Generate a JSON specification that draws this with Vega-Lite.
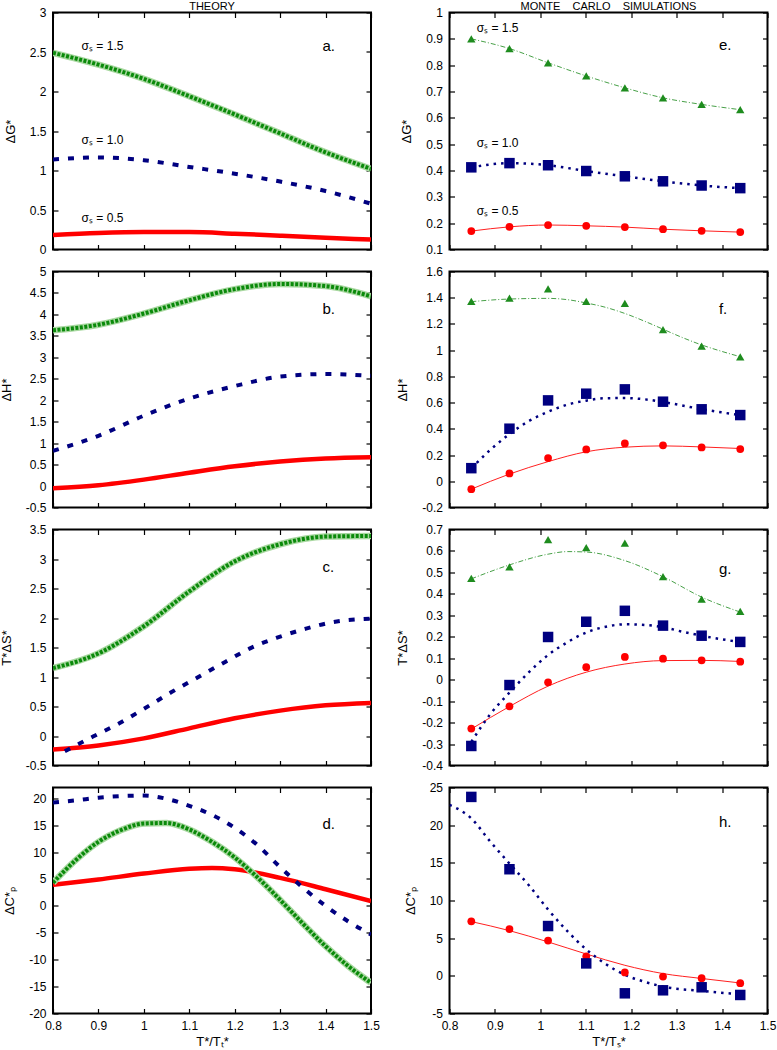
{
"$schema": "https://vega.github.io/schema/vega-lite/v6.json",
"padding": {"left": -1, "top": -0.5, "right": 5, "bottom": 5},
"bounds": "flush",
"columns": 2,
"spacing": {"row": 22, "column": 78.5},
"config": {
  "view": {"stroke": "black", "strokeWidth": 2},
  "font": "Liberation Sans",
  "axis": {"domain": false, "grid": false, "tickSize": -5, "tickWidth": 1.2, "tickColor": "black", "labelFontSize": 12, "labelColor": "black", "labelPadding": 12, "labelFlush": false, "labelOverlap": false, "format": ".2~f", "titleFontSize": 13, "titleFontWeight": "normal", "titleColor": "black", "titlePadding": 12},
  "title": {"fontSize": 11, "fontWeight": "normal", "offset": -5.5, "color": "black"},
  "text": {"font": "Liberation Sans", "color": "black"},
  "locale": {"number": {"decimal": ".", "thousands": ",", "grouping": [3], "currency": ["$", ""], "minus": "-"}}
},
"datasets": {
"th": [
{"p":"a","s":"1.5","x":0.8,"y":2.49},{"p":"a","s":"1.5","x":0.9,"y":2.34},{"p":"a","s":"1.5","x":1.0,"y":2.16},{"p":"a","s":"1.5","x":1.1,"y":1.94},{"p":"a","s":"1.5","x":1.2,"y":1.71},{"p":"a","s":"1.5","x":1.3,"y":1.47},{"p":"a","s":"1.5","x":1.4,"y":1.23},{"p":"a","s":"1.5","x":1.5,"y":1.02},
{"p":"a","s":"1.0","x":0.8,"y":1.14},{"p":"a","s":"1.0","x":0.9,"y":1.165},{"p":"a","s":"1.0","x":1.0,"y":1.13},{"p":"a","s":"1.0","x":1.1,"y":1.045},{"p":"a","s":"1.0","x":1.2,"y":0.96},{"p":"a","s":"1.0","x":1.3,"y":0.86},{"p":"a","s":"1.0","x":1.4,"y":0.74},{"p":"a","s":"1.0","x":1.5,"y":0.58},
{"p":"a","s":"0.5","x":0.8,"y":0.185},{"p":"a","s":"0.5","x":0.9,"y":0.21},{"p":"a","s":"0.5","x":1.0,"y":0.222},{"p":"a","s":"0.5","x":1.1,"y":0.22},{"p":"a","s":"0.5","x":1.2,"y":0.2},{"p":"a","s":"0.5","x":1.3,"y":0.175},{"p":"a","s":"0.5","x":1.4,"y":0.15},{"p":"a","s":"0.5","x":1.5,"y":0.125},
{"p":"b","s":"1.5","x":0.8,"y":3.63},{"p":"b","s":"1.5","x":0.9,"y":3.76},{"p":"b","s":"1.5","x":1.0,"y":4.02},{"p":"b","s":"1.5","x":1.1,"y":4.33},{"p":"b","s":"1.5","x":1.2,"y":4.59},{"p":"b","s":"1.5","x":1.3,"y":4.71},{"p":"b","s":"1.5","x":1.4,"y":4.66},{"p":"b","s":"1.5","x":1.5,"y":4.42},
{"p":"b","s":"1.0","x":0.8,"y":0.82},{"p":"b","s":"1.0","x":0.9,"y":1.17},{"p":"b","s":"1.0","x":1.0,"y":1.64},{"p":"b","s":"1.0","x":1.1,"y":2.04},{"p":"b","s":"1.0","x":1.2,"y":2.33},{"p":"b","s":"1.0","x":1.3,"y":2.55},{"p":"b","s":"1.0","x":1.4,"y":2.61},{"p":"b","s":"1.0","x":1.5,"y":2.57},
{"p":"b","s":"0.5","x":0.8,"y":-0.05},{"p":"b","s":"0.5","x":0.9,"y":0.02},{"p":"b","s":"0.5","x":1.0,"y":0.15},{"p":"b","s":"0.5","x":1.1,"y":0.31},{"p":"b","s":"0.5","x":1.2,"y":0.46},{"p":"b","s":"0.5","x":1.3,"y":0.57},{"p":"b","s":"0.5","x":1.4,"y":0.64},{"p":"b","s":"0.5","x":1.5,"y":0.67},
{"p":"c","s":"1.5","x":0.8,"y":1.15},{"p":"c","s":"1.5","x":0.9,"y":1.4},{"p":"c","s":"1.5","x":1.0,"y":1.86},{"p":"c","s":"1.5","x":1.1,"y":2.45},{"p":"c","s":"1.5","x":1.2,"y":2.96},{"p":"c","s":"1.5","x":1.3,"y":3.25},{"p":"c","s":"1.5","x":1.4,"y":3.38},{"p":"c","s":"1.5","x":1.5,"y":3.39},
{"p":"c","s":"1.0","x":0.826,"y":-0.26},{"p":"c","s":"1.0","x":0.888,"y":-0.01},{"p":"c","s":"1.0","x":0.947,"y":0.22},{"p":"c","s":"1.0","x":1.0,"y":0.46},{"p":"c","s":"1.0","x":1.06,"y":0.74},{"p":"c","s":"1.0","x":1.12,"y":1.0},{"p":"c","s":"1.0","x":1.18,"y":1.26},{"p":"c","s":"1.0","x":1.235,"y":1.49},{"p":"c","s":"1.0","x":1.295,"y":1.67},{"p":"c","s":"1.0","x":1.357,"y":1.82},{"p":"c","s":"1.0","x":1.416,"y":1.93},{"p":"c","s":"1.0","x":1.5,"y":1.99},
{"p":"c","s":"0.5","x":0.8,"y":-0.23},{"p":"c","s":"0.5","x":0.9,"y":-0.16},{"p":"c","s":"0.5","x":1.0,"y":-0.04},{"p":"c","s":"0.5","x":1.1,"y":0.13},{"p":"c","s":"0.5","x":1.2,"y":0.3},{"p":"c","s":"0.5","x":1.3,"y":0.43},{"p":"c","s":"0.5","x":1.4,"y":0.52},{"p":"c","s":"0.5","x":1.5,"y":0.56},
{"p":"d","s":"1.5","x":0.8,"y":4.3},{"p":"d","s":"1.5","x":0.85,"y":8.5},{"p":"d","s":"1.5","x":0.9,"y":11.9},{"p":"d","s":"1.5","x":0.95,"y":14.1},{"p":"d","s":"1.5","x":1.0,"y":15.3},{"p":"d","s":"1.5","x":1.05,"y":15.4},{"p":"d","s":"1.5","x":1.1,"y":14.2},{"p":"d","s":"1.5","x":1.15,"y":11.9},{"p":"d","s":"1.5","x":1.2,"y":9.0},{"p":"d","s":"1.5","x":1.25,"y":5.3},{"p":"d","s":"1.5","x":1.3,"y":1.1},{"p":"d","s":"1.5","x":1.35,"y":-3.3},{"p":"d","s":"1.5","x":1.4,"y":-7.5},{"p":"d","s":"1.5","x":1.45,"y":-11.2},{"p":"d","s":"1.5","x":1.5,"y":-14.3},
{"p":"d","s":"1.0","x":0.8,"y":19.2},{"p":"d","s":"1.0","x":0.85,"y":19.6},{"p":"d","s":"1.0","x":0.9,"y":20.1},{"p":"d","s":"1.0","x":0.95,"y":20.4},{"p":"d","s":"1.0","x":1.0,"y":20.5},{"p":"d","s":"1.0","x":1.05,"y":19.9},{"p":"d","s":"1.0","x":1.1,"y":18.6},{"p":"d","s":"1.0","x":1.15,"y":16.9},{"p":"d","s":"1.0","x":1.2,"y":14.5},{"p":"d","s":"1.0","x":1.25,"y":11.3},{"p":"d","s":"1.0","x":1.3,"y":7.2},{"p":"d","s":"1.0","x":1.35,"y":3.4},{"p":"d","s":"1.0","x":1.4,"y":0.0},{"p":"d","s":"1.0","x":1.45,"y":-2.9},{"p":"d","s":"1.0","x":1.5,"y":-5.3},
{"p":"d","s":"0.5","x":0.8,"y":3.9},{"p":"d","s":"0.5","x":0.9,"y":4.9},{"p":"d","s":"0.5","x":1.0,"y":6.0},{"p":"d","s":"0.5","x":1.1,"y":6.9},{"p":"d","s":"0.5","x":1.15,"y":7.05},{"p":"d","s":"0.5","x":1.2,"y":6.8},{"p":"d","s":"0.5","x":1.3,"y":5.2},{"p":"d","s":"0.5","x":1.4,"y":3.1},{"p":"d","s":"0.5","x":1.5,"y":0.9}
],
"mc": [
{"p":"e","s":"1.5","x":0.848,"y":0.9},{"p":"e","s":"1.5","x":0.932,"y":0.863},{"p":"e","s":"1.5","x":1.017,"y":0.809},{"p":"e","s":"1.5","x":1.101,"y":0.759},{"p":"e","s":"1.5","x":1.186,"y":0.714},{"p":"e","s":"1.5","x":1.27,"y":0.676},{"p":"e","s":"1.5","x":1.355,"y":0.651},{"p":"e","s":"1.5","x":1.44,"y":0.631},
{"p":"e","s":"1.0","x":0.848,"y":0.412},{"p":"e","s":"1.0","x":0.932,"y":0.428},{"p":"e","s":"1.0","x":1.017,"y":0.42},{"p":"e","s":"1.0","x":1.101,"y":0.398},{"p":"e","s":"1.0","x":1.186,"y":0.378},{"p":"e","s":"1.0","x":1.27,"y":0.359},{"p":"e","s":"1.0","x":1.355,"y":0.343},{"p":"e","s":"1.0","x":1.44,"y":0.333},
{"p":"e","s":"0.5","x":0.848,"y":0.17},{"p":"e","s":"0.5","x":0.932,"y":0.186},{"p":"e","s":"0.5","x":1.017,"y":0.193},{"p":"e","s":"0.5","x":1.101,"y":0.19},{"p":"e","s":"0.5","x":1.186,"y":0.185},{"p":"e","s":"0.5","x":1.27,"y":0.177},{"p":"e","s":"0.5","x":1.355,"y":0.171},{"p":"e","s":"0.5","x":1.44,"y":0.166},
{"p":"f","s":"1.5","x":0.848,"y":1.373},{"p":"f","s":"1.5","x":0.932,"y":1.396},{"p":"f","s":"1.5","x":1.017,"y":1.468},{"p":"f","s":"1.5","x":1.101,"y":1.373},{"p":"f","s":"1.5","x":1.186,"y":1.356},{"p":"f","s":"1.5","x":1.27,"y":1.157},{"p":"f","s":"1.5","x":1.355,"y":1.03},{"p":"f","s":"1.5","x":1.44,"y":0.948},
{"p":"f","s":"1.0","x":0.848,"y":0.1},{"p":"f","s":"1.0","x":0.932,"y":0.401},{"p":"f","s":"1.0","x":1.017,"y":0.617},{"p":"f","s":"1.0","x":1.101,"y":0.668},{"p":"f","s":"1.0","x":1.186,"y":0.701},{"p":"f","s":"1.0","x":1.27,"y":0.607},{"p":"f","s":"1.0","x":1.355,"y":0.549},{"p":"f","s":"1.0","x":1.44,"y":0.505},
{"p":"f","s":"0.5","x":0.848,"y":-0.06},{"p":"f","s":"0.5","x":0.932,"y":0.06},{"p":"f","s":"0.5","x":1.017,"y":0.177},{"p":"f","s":"0.5","x":1.101,"y":0.243},{"p":"f","s":"0.5","x":1.186,"y":0.289},{"p":"f","s":"0.5","x":1.27,"y":0.274},{"p":"f","s":"0.5","x":1.355,"y":0.258},{"p":"f","s":"0.5","x":1.44,"y":0.246},
{"p":"g","s":"1.5","x":0.848,"y":0.472},{"p":"g","s":"1.5","x":0.932,"y":0.526},{"p":"g","s":"1.5","x":1.017,"y":0.653},{"p":"g","s":"1.5","x":1.101,"y":0.615},{"p":"g","s":"1.5","x":1.186,"y":0.636},{"p":"g","s":"1.5","x":1.27,"y":0.48},{"p":"g","s":"1.5","x":1.355,"y":0.376},{"p":"g","s":"1.5","x":1.44,"y":0.318},
{"p":"g","s":"1.0","x":0.848,"y":-0.309},{"p":"g","s":"1.0","x":0.932,"y":-0.025},{"p":"g","s":"1.0","x":1.017,"y":0.199},{"p":"g","s":"1.0","x":1.101,"y":0.27},{"p":"g","s":"1.0","x":1.186,"y":0.321},{"p":"g","s":"1.0","x":1.27,"y":0.252},{"p":"g","s":"1.0","x":1.355,"y":0.205},{"p":"g","s":"1.0","x":1.44,"y":0.176},
{"p":"g","s":"0.5","x":0.848,"y":-0.228},{"p":"g","s":"0.5","x":0.932,"y":-0.124},{"p":"g","s":"0.5","x":1.017,"y":-0.012},{"p":"g","s":"0.5","x":1.101,"y":0.058},{"p":"g","s":"0.5","x":1.186,"y":0.106},{"p":"g","s":"0.5","x":1.27,"y":0.098},{"p":"g","s":"0.5","x":1.355,"y":0.09},{"p":"g","s":"0.5","x":1.44,"y":0.084},
{"p":"h","s":"1.0","x":0.848,"y":23.75},{"p":"h","s":"1.0","x":0.932,"y":14.15},{"p":"h","s":"1.0","x":1.017,"y":6.61},{"p":"h","s":"1.0","x":1.101,"y":1.65},{"p":"h","s":"1.0","x":1.186,"y":-2.32},{"p":"h","s":"1.0","x":1.27,"y":-1.92},{"p":"h","s":"1.0","x":1.355,"y":-1.52},{"p":"h","s":"1.0","x":1.44,"y":-2.54},
{"p":"h","s":"0.5","x":0.848,"y":7.23},{"p":"h","s":"0.5","x":0.932,"y":6.21},{"p":"h","s":"0.5","x":1.017,"y":4.69},{"p":"h","s":"0.5","x":1.101,"y":2.59},{"p":"h","s":"0.5","x":1.186,"y":0.45},{"p":"h","s":"0.5","x":1.27,"y":-0.09},{"p":"h","s":"0.5","x":1.355,"y":-0.31},{"p":"h","s":"0.5","x":1.44,"y":-0.98}
],
"fit": [
{"p":"e","s":"1.5","x":0.848,"y":0.9},{"p":"e","s":"1.5","x":0.932,"y":0.863},{"p":"e","s":"1.5","x":1.017,"y":0.809},{"p":"e","s":"1.5","x":1.101,"y":0.759},{"p":"e","s":"1.5","x":1.186,"y":0.714},{"p":"e","s":"1.5","x":1.27,"y":0.676},{"p":"e","s":"1.5","x":1.355,"y":0.651},{"p":"e","s":"1.5","x":1.44,"y":0.631},
{"p":"e","s":"1.0","x":0.848,"y":0.412},{"p":"e","s":"1.0","x":0.932,"y":0.428},{"p":"e","s":"1.0","x":1.017,"y":0.42},{"p":"e","s":"1.0","x":1.101,"y":0.398},{"p":"e","s":"1.0","x":1.186,"y":0.378},{"p":"e","s":"1.0","x":1.27,"y":0.359},{"p":"e","s":"1.0","x":1.355,"y":0.343},{"p":"e","s":"1.0","x":1.44,"y":0.333},
{"p":"e","s":"0.5","x":0.848,"y":0.17},{"p":"e","s":"0.5","x":0.932,"y":0.186},{"p":"e","s":"0.5","x":1.017,"y":0.193},{"p":"e","s":"0.5","x":1.101,"y":0.19},{"p":"e","s":"0.5","x":1.186,"y":0.185},{"p":"e","s":"0.5","x":1.27,"y":0.177},{"p":"e","s":"0.5","x":1.355,"y":0.171},{"p":"e","s":"0.5","x":1.44,"y":0.166},
{"p":"f","s":"1.5","x":0.848,"y":1.37},{"p":"f","s":"1.5","x":0.932,"y":1.39},{"p":"f","s":"1.5","x":1.017,"y":1.395},{"p":"f","s":"1.5","x":1.06,"y":1.385},{"p":"f","s":"1.5","x":1.101,"y":1.36},{"p":"f","s":"1.5","x":1.14,"y":1.33},{"p":"f","s":"1.5","x":1.186,"y":1.28},{"p":"f","s":"1.5","x":1.23,"y":1.22},{"p":"f","s":"1.5","x":1.27,"y":1.16},{"p":"f","s":"1.5","x":1.31,"y":1.1},{"p":"f","s":"1.5","x":1.355,"y":1.04},{"p":"f","s":"1.5","x":1.4,"y":0.99},{"p":"f","s":"1.5","x":1.44,"y":0.95},
{"p":"f","s":"1.0","x":0.848,"y":0.1},{"p":"f","s":"1.0","x":0.89,"y":0.24},{"p":"f","s":"1.0","x":0.932,"y":0.36},{"p":"f","s":"1.0","x":0.975,"y":0.46},{"p":"f","s":"1.0","x":1.017,"y":0.53},{"p":"f","s":"1.0","x":1.06,"y":0.585},{"p":"f","s":"1.0","x":1.101,"y":0.615},{"p":"f","s":"1.0","x":1.14,"y":0.633},{"p":"f","s":"1.0","x":1.186,"y":0.635},{"p":"f","s":"1.0","x":1.23,"y":0.625},{"p":"f","s":"1.0","x":1.27,"y":0.605},{"p":"f","s":"1.0","x":1.31,"y":0.58},{"p":"f","s":"1.0","x":1.355,"y":0.55},{"p":"f","s":"1.0","x":1.4,"y":0.525},{"p":"f","s":"1.0","x":1.44,"y":0.505},
{"p":"f","s":"0.5","x":0.848,"y":-0.06},{"p":"f","s":"0.5","x":0.932,"y":0.055},{"p":"f","s":"0.5","x":1.017,"y":0.15},{"p":"f","s":"0.5","x":1.101,"y":0.225},{"p":"f","s":"0.5","x":1.186,"y":0.26},{"p":"f","s":"0.5","x":1.27,"y":0.27},{"p":"f","s":"0.5","x":1.355,"y":0.262},{"p":"f","s":"0.5","x":1.44,"y":0.25},
{"p":"g","s":"1.5","x":0.848,"y":0.47},{"p":"g","s":"1.5","x":0.932,"y":0.535},{"p":"g","s":"1.5","x":1.017,"y":0.585},{"p":"g","s":"1.5","x":1.06,"y":0.597},{"p":"g","s":"1.5","x":1.101,"y":0.595},{"p":"g","s":"1.5","x":1.186,"y":0.555},{"p":"g","s":"1.5","x":1.27,"y":0.48},{"p":"g","s":"1.5","x":1.355,"y":0.385},{"p":"g","s":"1.5","x":1.44,"y":0.315},
{"p":"g","s":"1.0","x":0.848,"y":-0.29},{"p":"g","s":"1.0","x":0.89,"y":-0.16},{"p":"g","s":"1.0","x":0.932,"y":-0.06},{"p":"g","s":"1.0","x":0.975,"y":0.035},{"p":"g","s":"1.0","x":1.017,"y":0.115},{"p":"g","s":"1.0","x":1.06,"y":0.175},{"p":"g","s":"1.0","x":1.101,"y":0.22},{"p":"g","s":"1.0","x":1.14,"y":0.245},{"p":"g","s":"1.0","x":1.186,"y":0.258},{"p":"g","s":"1.0","x":1.23,"y":0.255},{"p":"g","s":"1.0","x":1.27,"y":0.245},{"p":"g","s":"1.0","x":1.31,"y":0.225},{"p":"g","s":"1.0","x":1.355,"y":0.205},{"p":"g","s":"1.0","x":1.44,"y":0.175},
{"p":"g","s":"0.5","x":0.848,"y":-0.23},{"p":"g","s":"0.5","x":0.932,"y":-0.125},{"p":"g","s":"0.5","x":1.017,"y":-0.03},{"p":"g","s":"0.5","x":1.101,"y":0.035},{"p":"g","s":"0.5","x":1.186,"y":0.073},{"p":"g","s":"0.5","x":1.27,"y":0.089},{"p":"g","s":"0.5","x":1.355,"y":0.09},{"p":"g","s":"0.5","x":1.44,"y":0.085},
{"p":"h","s":"1.0","x":0.8,"y":22.7},{"p":"h","s":"1.0","x":0.848,"y":20.9},{"p":"h","s":"1.0","x":0.89,"y":17.8},{"p":"h","s":"1.0","x":0.932,"y":14.9},{"p":"h","s":"1.0","x":0.975,"y":12.0},{"p":"h","s":"1.0","x":1.017,"y":8.8},{"p":"h","s":"1.0","x":1.06,"y":5.9},{"p":"h","s":"1.0","x":1.101,"y":3.5},{"p":"h","s":"1.0","x":1.143,"y":1.6},{"p":"h","s":"1.0","x":1.186,"y":0.13},{"p":"h","s":"1.0","x":1.228,"y":-0.76},{"p":"h","s":"1.0","x":1.27,"y":-1.43},{"p":"h","s":"1.0","x":1.355,"y":-2.0},{"p":"h","s":"1.0","x":1.44,"y":-2.45},
{"p":"h","s":"0.5","x":0.848,"y":7.2},{"p":"h","s":"0.5","x":0.932,"y":6.0},{"p":"h","s":"0.5","x":1.017,"y":4.5},{"p":"h","s":"0.5","x":1.101,"y":2.9},{"p":"h","s":"0.5","x":1.186,"y":1.4},{"p":"h","s":"0.5","x":1.27,"y":0.3},{"p":"h","s":"0.5","x":1.355,"y":-0.35},{"p":"h","s":"0.5","x":1.44,"y":-0.95}
],
"lab": [
{"p":"a","k":"L","x":1.393,"y":2.57,"t":"a."},{"p":"a","k":"S","x":0.863,"y":2.57,"t":"σₛ = 1.5"},{"p":"a","k":"S","x":0.863,"y":1.39,"t":"σₛ = 1.0"},{"p":"a","k":"S","x":0.863,"y":0.405,"t":"σₛ = 0.5"},
{"p":"b","k":"L","x":1.393,"y":4.13,"t":"b."},
{"p":"c","k":"L","x":1.393,"y":2.86,"t":"c."},
{"p":"d","k":"L","x":1.393,"y":15.2,"t":"d."},
{"p":"e","k":"L","x":1.393,"y":0.875,"t":"e."},{"p":"e","k":"S","x":0.86,"y":0.943,"t":"σₛ = 1.5"},{"p":"e","k":"S","x":0.86,"y":0.506,"t":"σₛ = 1.0"},{"p":"e","k":"S","x":0.86,"y":0.248,"t":"σₛ = 0.5"},
{"p":"f","k":"L","x":1.393,"y":1.315,"t":"f."},
{"p":"g","k":"L","x":1.393,"y":0.518,"t":"g."},
{"p":"h","k":"L","x":1.393,"y":20.4,"t":"h."}
]
},
"concat": [
{"width":318,"height":237,"title":{"text":"THEORY"},
 "data":{"name":"th"},"transform":[{"filter":"datum.p=='a'"}],
 "encoding":{"x":{"field":"x","type":"quantitative","scale":{"domain":[0.8,1.5],"nice":false,"zero":false},"axis":null},"y":{"field":"y","type":"quantitative","scale":{"domain":[0,3],"nice":false,"zero":false},"axis":null}},
 "layer":[
  {"transform":[{"filter":"datum.s=='0.5'"}],"mark":{"type":"line","color":"#ff0000","strokeWidth":4.5,"interpolate":"monotone","clip":true}},
  {"transform":[{"filter":"datum.s=='1.5'"}],"mark":{"type":"line","color":"#a8d8a0","strokeWidth":6.5,"interpolate":"monotone","clip":true}},
  {"transform":[{"filter":"datum.s=='1.5'"}],"mark":{"type":"line","color":"#0a8a0a","strokeWidth":4,"strokeDash":[3,1.5],"interpolate":"monotone","clip":true}},
  {"transform":[{"filter":"datum.s=='1.0'"}],"mark":{"type":"line","color":"#000080","strokeWidth":4,"strokeDash":[6,9],"interpolate":"monotone","clip":true}},
  {"data":{"name":"lab"},"transform":[{"filter":"datum.p=='a' && datum.k=='L'"}],"mark":{"type":"text","align":"left","baseline":"middle","fontSize":15},"encoding":{"text":{"field":"t"}}},
  {"data":{"name":"lab"},"transform":[{"filter":"datum.p=='a' && datum.k=='S'"}],"mark":{"type":"text","align":"left","baseline":"middle","fontSize":12},"encoding":{"text":{"field":"t"}}},
  {"mark":{"type":"point","opacity":0},"encoding":{"x":{"field":"x","type":"quantitative","scale":{"domain":[0.8,1.5],"nice":false,"zero":false},"axis":{"values":[0.8,0.9,1,1.1,1.2,1.3,1.4,1.5],"labels":false,"title":null}},"y":{"field":"y","type":"quantitative","scale":{"domain":[0,3],"nice":false,"zero":false},"axis":{"values":[0,0.5,1,1.5,2,2.5,3],"title":"ΔG*"}}}},
  {"mark":{"type":"point","opacity":0},"encoding":{"x":{"field":"x","type":"quantitative","scale":{"domain":[0.8,1.5],"nice":false,"zero":false},"axis":{"orient":"top","values":[0.8,0.9,1,1.1,1.2,1.3,1.4,1.5],"labels":false,"title":null}},"y":{"field":"y","type":"quantitative","scale":{"domain":[0,3],"nice":false,"zero":false},"axis":{"orient":"right","values":[0,0.5,1,1.5,2,2.5,3],"labels":false,"title":null}}}}
 ],
 "resolve":{"axis":{"x":"independent","y":"independent"}}},
{"width":318,"height":237,"title":{"text":"MONTE \u00a0\u00a0 CARLO \u00a0\u00a0 SIMULATIONS"},
 "data":{"name":"mc"},"transform":[{"filter":"datum.p=='e'"}],
 "encoding":{"x":{"field":"x","type":"quantitative","scale":{"domain":[0.8,1.5],"nice":false,"zero":false},"axis":null},"y":{"field":"y","type":"quantitative","scale":{"domain":[0.1,1],"nice":false,"zero":false},"axis":null}},
 "layer":[
  {"data":{"name":"fit"},"transform":[{"filter":"datum.p=='e' && datum.s=='0.5'"}],"mark":{"type":"line","color":"#ff2020","strokeWidth":1,"interpolate":"monotone","clip":true}},
  {"data":{"name":"fit"},"transform":[{"filter":"datum.p=='e' && datum.s=='1.0'"}],"mark":{"type":"line","color":"#000080","strokeWidth":2.5,"strokeDash":[2.5,5],"interpolate":"monotone","clip":true}},
  {"data":{"name":"fit"},"transform":[{"filter":"datum.p=='e' && datum.s=='1.5'"}],"mark":{"type":"line","color":"#48a048","strokeWidth":1,"strokeDash":[5,2,1,2],"interpolate":"monotone","clip":true}},
  {"transform":[{"filter":"datum.s=='0.5'"}],"mark":{"type":"point","shape":"circle","filled":true,"color":"#ff0000","opacity":1,"size":60}},
  {"transform":[{"filter":"datum.s=='1.0'"}],"mark":{"type":"point","shape":"square","filled":true,"color":"#000080","opacity":1,"size":110}},
  {"transform":[{"filter":"datum.s=='1.5'"}],"mark":{"type":"point","shape":"triangle-up","filled":true,"color":"#1e8c1e","opacity":1,"size":70}},
  {"data":{"name":"lab"},"transform":[{"filter":"datum.p=='e' && datum.k=='L'"}],"mark":{"type":"text","align":"left","baseline":"middle","fontSize":15},"encoding":{"text":{"field":"t"}}},
  {"data":{"name":"lab"},"transform":[{"filter":"datum.p=='e' && datum.k=='S'"}],"mark":{"type":"text","align":"left","baseline":"middle","fontSize":12},"encoding":{"text":{"field":"t"}}},
  {"mark":{"type":"point","opacity":0},"encoding":{"x":{"field":"x","type":"quantitative","scale":{"domain":[0.8,1.5],"nice":false,"zero":false},"axis":{"values":[0.8,0.9,1,1.1,1.2,1.3,1.4,1.5],"labels":false,"title":null}},"y":{"field":"y","type":"quantitative","scale":{"domain":[0.1,1],"nice":false,"zero":false},"axis":{"values":[0.1,0.2,0.3,0.4,0.5,0.6,0.7,0.8,0.9,1],"title":"ΔG*"}}}},
  {"mark":{"type":"point","opacity":0},"encoding":{"x":{"field":"x","type":"quantitative","scale":{"domain":[0.8,1.5],"nice":false,"zero":false},"axis":{"orient":"top","values":[0.8,0.9,1,1.1,1.2,1.3,1.4,1.5],"labels":false,"title":null}},"y":{"field":"y","type":"quantitative","scale":{"domain":[0.1,1],"nice":false,"zero":false},"axis":{"orient":"right","values":[0.1,0.2,0.3,0.4,0.5,0.6,0.7,0.8,0.9,1],"labels":false,"title":null}}}}
 ],
 "resolve":{"axis":{"x":"independent","y":"independent"}}},
{"width":318,"height":236,
 "data":{"name":"th"},"transform":[{"filter":"datum.p=='b'"}],
 "encoding":{"x":{"field":"x","type":"quantitative","scale":{"domain":[0.8,1.5],"nice":false,"zero":false},"axis":null},"y":{"field":"y","type":"quantitative","scale":{"domain":[-0.5,5],"nice":false,"zero":false},"axis":null}},
 "layer":[
  {"transform":[{"filter":"datum.s=='0.5'"}],"mark":{"type":"line","color":"#ff0000","strokeWidth":4.5,"interpolate":"monotone","clip":true}},
  {"transform":[{"filter":"datum.s=='1.5'"}],"mark":{"type":"line","color":"#a8d8a0","strokeWidth":6.5,"interpolate":"monotone","clip":true}},
  {"transform":[{"filter":"datum.s=='1.5'"}],"mark":{"type":"line","color":"#0a8a0a","strokeWidth":4,"strokeDash":[3,1.5],"interpolate":"monotone","clip":true}},
  {"transform":[{"filter":"datum.s=='1.0'"}],"mark":{"type":"line","color":"#000080","strokeWidth":4,"strokeDash":[6,9],"interpolate":"monotone","clip":true}},
  {"data":{"name":"lab"},"transform":[{"filter":"datum.p=='b' && datum.k=='L'"}],"mark":{"type":"text","align":"left","baseline":"middle","fontSize":15},"encoding":{"text":{"field":"t"}}},
  {"mark":{"type":"point","opacity":0},"encoding":{"x":{"field":"x","type":"quantitative","scale":{"domain":[0.8,1.5],"nice":false,"zero":false},"axis":{"values":[0.8,0.9,1,1.1,1.2,1.3,1.4,1.5],"labels":false,"title":null}},"y":{"field":"y","type":"quantitative","scale":{"domain":[-0.5,5],"nice":false,"zero":false},"axis":{"values":[-0.5,0,0.5,1,1.5,2,2.5,3,3.5,4,4.5,5],"title":"ΔH*"}}}},
  {"mark":{"type":"point","opacity":0},"encoding":{"x":{"field":"x","type":"quantitative","scale":{"domain":[0.8,1.5],"nice":false,"zero":false},"axis":{"orient":"top","values":[0.8,0.9,1,1.1,1.2,1.3,1.4,1.5],"labels":false,"title":null}},"y":{"field":"y","type":"quantitative","scale":{"domain":[-0.5,5],"nice":false,"zero":false},"axis":{"orient":"right","values":[-0.5,0,0.5,1,1.5,2,2.5,3,3.5,4,4.5,5],"labels":false,"title":null}}}}
 ],
 "resolve":{"axis":{"x":"independent","y":"independent"}}},
{"width":318,"height":236,
 "data":{"name":"mc"},"transform":[{"filter":"datum.p=='f'"}],
 "encoding":{"x":{"field":"x","type":"quantitative","scale":{"domain":[0.8,1.5],"nice":false,"zero":false},"axis":null},"y":{"field":"y","type":"quantitative","scale":{"domain":[-0.2,1.6],"nice":false,"zero":false},"axis":null}},
 "layer":[
  {"data":{"name":"fit"},"transform":[{"filter":"datum.p=='f' && datum.s=='0.5'"}],"mark":{"type":"line","color":"#ff2020","strokeWidth":1,"interpolate":"monotone","clip":true}},
  {"data":{"name":"fit"},"transform":[{"filter":"datum.p=='f' && datum.s=='1.0'"}],"mark":{"type":"line","color":"#000080","strokeWidth":2.5,"strokeDash":[2.5,5],"interpolate":"monotone","clip":true}},
  {"data":{"name":"fit"},"transform":[{"filter":"datum.p=='f' && datum.s=='1.5'"}],"mark":{"type":"line","color":"#48a048","strokeWidth":1,"strokeDash":[5,2,1,2],"interpolate":"monotone","clip":true}},
  {"transform":[{"filter":"datum.s=='0.5'"}],"mark":{"type":"point","shape":"circle","filled":true,"color":"#ff0000","opacity":1,"size":60}},
  {"transform":[{"filter":"datum.s=='1.0'"}],"mark":{"type":"point","shape":"square","filled":true,"color":"#000080","opacity":1,"size":110}},
  {"transform":[{"filter":"datum.s=='1.5'"}],"mark":{"type":"point","shape":"triangle-up","filled":true,"color":"#1e8c1e","opacity":1,"size":70}},
  {"data":{"name":"lab"},"transform":[{"filter":"datum.p=='f' && datum.k=='L'"}],"mark":{"type":"text","align":"left","baseline":"middle","fontSize":15},"encoding":{"text":{"field":"t"}}},
  {"mark":{"type":"point","opacity":0},"encoding":{"x":{"field":"x","type":"quantitative","scale":{"domain":[0.8,1.5],"nice":false,"zero":false},"axis":{"values":[0.8,0.9,1,1.1,1.2,1.3,1.4,1.5],"labels":false,"title":null}},"y":{"field":"y","type":"quantitative","scale":{"domain":[-0.2,1.6],"nice":false,"zero":false},"axis":{"values":[-0.2,0,0.2,0.4,0.6,0.8,1,1.2,1.4,1.6],"title":"ΔH*"}}}},
  {"mark":{"type":"point","opacity":0},"encoding":{"x":{"field":"x","type":"quantitative","scale":{"domain":[0.8,1.5],"nice":false,"zero":false},"axis":{"orient":"top","values":[0.8,0.9,1,1.1,1.2,1.3,1.4,1.5],"labels":false,"title":null}},"y":{"field":"y","type":"quantitative","scale":{"domain":[-0.2,1.6],"nice":false,"zero":false},"axis":{"orient":"right","values":[-0.2,0,0.2,0.4,0.6,0.8,1,1.2,1.4,1.6],"labels":false,"title":null}}}}
 ],
 "resolve":{"axis":{"x":"independent","y":"independent"}}},
{"width":318,"height":236,
 "data":{"name":"th"},"transform":[{"filter":"datum.p=='c'"}],
 "encoding":{"x":{"field":"x","type":"quantitative","scale":{"domain":[0.8,1.5],"nice":false,"zero":false},"axis":null},"y":{"field":"y","type":"quantitative","scale":{"domain":[-0.5,3.5],"nice":false,"zero":false},"axis":null}},
 "layer":[
  {"transform":[{"filter":"datum.s=='0.5'"}],"mark":{"type":"line","color":"#ff0000","strokeWidth":4.5,"interpolate":"monotone","clip":true}},
  {"transform":[{"filter":"datum.s=='1.5'"}],"mark":{"type":"line","color":"#a8d8a0","strokeWidth":6.5,"interpolate":"monotone","clip":true}},
  {"transform":[{"filter":"datum.s=='1.5'"}],"mark":{"type":"line","color":"#0a8a0a","strokeWidth":4,"strokeDash":[3,1.5],"interpolate":"monotone","clip":true}},
  {"transform":[{"filter":"datum.s=='1.0'"}],"mark":{"type":"line","color":"#000080","strokeWidth":4,"strokeDash":[6,9],"interpolate":"monotone","clip":true}},
  {"data":{"name":"lab"},"transform":[{"filter":"datum.p=='c' && datum.k=='L'"}],"mark":{"type":"text","align":"left","baseline":"middle","fontSize":15},"encoding":{"text":{"field":"t"}}},
  {"mark":{"type":"point","opacity":0},"encoding":{"x":{"field":"x","type":"quantitative","scale":{"domain":[0.8,1.5],"nice":false,"zero":false},"axis":{"values":[0.8,0.9,1,1.1,1.2,1.3,1.4,1.5],"labels":false,"title":null}},"y":{"field":"y","type":"quantitative","scale":{"domain":[-0.5,3.5],"nice":false,"zero":false},"axis":{"values":[-0.5,0,0.5,1,1.5,2,2.5,3,3.5],"title":"T*ΔS*"}}}},
  {"mark":{"type":"point","opacity":0},"encoding":{"x":{"field":"x","type":"quantitative","scale":{"domain":[0.8,1.5],"nice":false,"zero":false},"axis":{"orient":"top","values":[0.8,0.9,1,1.1,1.2,1.3,1.4,1.5],"labels":false,"title":null}},"y":{"field":"y","type":"quantitative","scale":{"domain":[-0.5,3.5],"nice":false,"zero":false},"axis":{"orient":"right","values":[-0.5,0,0.5,1,1.5,2,2.5,3,3.5],"labels":false,"title":null}}}}
 ],
 "resolve":{"axis":{"x":"independent","y":"independent"}}},
{"width":318,"height":236,
 "data":{"name":"mc"},"transform":[{"filter":"datum.p=='g'"}],
 "encoding":{"x":{"field":"x","type":"quantitative","scale":{"domain":[0.8,1.5],"nice":false,"zero":false},"axis":null},"y":{"field":"y","type":"quantitative","scale":{"domain":[-0.4,0.7],"nice":false,"zero":false},"axis":null}},
 "layer":[
  {"data":{"name":"fit"},"transform":[{"filter":"datum.p=='g' && datum.s=='0.5'"}],"mark":{"type":"line","color":"#ff2020","strokeWidth":1,"interpolate":"monotone","clip":true}},
  {"data":{"name":"fit"},"transform":[{"filter":"datum.p=='g' && datum.s=='1.0'"}],"mark":{"type":"line","color":"#000080","strokeWidth":2.5,"strokeDash":[2.5,5],"interpolate":"monotone","clip":true}},
  {"data":{"name":"fit"},"transform":[{"filter":"datum.p=='g' && datum.s=='1.5'"}],"mark":{"type":"line","color":"#48a048","strokeWidth":1,"strokeDash":[5,2,1,2],"interpolate":"monotone","clip":true}},
  {"transform":[{"filter":"datum.s=='0.5'"}],"mark":{"type":"point","shape":"circle","filled":true,"color":"#ff0000","opacity":1,"size":60}},
  {"transform":[{"filter":"datum.s=='1.0'"}],"mark":{"type":"point","shape":"square","filled":true,"color":"#000080","opacity":1,"size":110}},
  {"transform":[{"filter":"datum.s=='1.5'"}],"mark":{"type":"point","shape":"triangle-up","filled":true,"color":"#1e8c1e","opacity":1,"size":70}},
  {"data":{"name":"lab"},"transform":[{"filter":"datum.p=='g' && datum.k=='L'"}],"mark":{"type":"text","align":"left","baseline":"middle","fontSize":15},"encoding":{"text":{"field":"t"}}},
  {"mark":{"type":"point","opacity":0},"encoding":{"x":{"field":"x","type":"quantitative","scale":{"domain":[0.8,1.5],"nice":false,"zero":false},"axis":{"values":[0.8,0.9,1,1.1,1.2,1.3,1.4,1.5],"labels":false,"title":null}},"y":{"field":"y","type":"quantitative","scale":{"domain":[-0.4,0.7],"nice":false,"zero":false},"axis":{"values":[-0.4,-0.3,-0.2,-0.1,0,0.1,0.2,0.3,0.4,0.5,0.6,0.7],"title":"T*ΔS*"}}}},
  {"mark":{"type":"point","opacity":0},"encoding":{"x":{"field":"x","type":"quantitative","scale":{"domain":[0.8,1.5],"nice":false,"zero":false},"axis":{"orient":"top","values":[0.8,0.9,1,1.1,1.2,1.3,1.4,1.5],"labels":false,"title":null}},"y":{"field":"y","type":"quantitative","scale":{"domain":[-0.4,0.7],"nice":false,"zero":false},"axis":{"orient":"right","values":[-0.4,-0.3,-0.2,-0.1,0,0.1,0.2,0.3,0.4,0.5,0.6,0.7],"labels":false,"title":null}}}}
 ],
 "resolve":{"axis":{"x":"independent","y":"independent"}}},
{"width":318,"height":226,
 "data":{"name":"th"},"transform":[{"filter":"datum.p=='d'"}],
 "encoding":{"x":{"field":"x","type":"quantitative","scale":{"domain":[0.8,1.5],"nice":false,"zero":false},"axis":null},"y":{"field":"y","type":"quantitative","scale":{"domain":[-20,22],"nice":false,"zero":false},"axis":null}},
 "layer":[
  {"transform":[{"filter":"datum.s=='0.5'"}],"mark":{"type":"line","color":"#ff0000","strokeWidth":4.5,"interpolate":"monotone","clip":true}},
  {"transform":[{"filter":"datum.s=='1.5'"}],"mark":{"type":"line","color":"#a8d8a0","strokeWidth":6.5,"interpolate":"monotone","clip":true}},
  {"transform":[{"filter":"datum.s=='1.5'"}],"mark":{"type":"line","color":"#0a8a0a","strokeWidth":4,"strokeDash":[3,1.5],"interpolate":"monotone","clip":true}},
  {"transform":[{"filter":"datum.s=='1.0'"}],"mark":{"type":"line","color":"#000080","strokeWidth":4,"strokeDash":[6,9],"interpolate":"monotone","clip":true}},
  {"data":{"name":"lab"},"transform":[{"filter":"datum.p=='d' && datum.k=='L'"}],"mark":{"type":"text","align":"left","baseline":"middle","fontSize":15},"encoding":{"text":{"field":"t"}}},
  {"mark":{"type":"point","opacity":0},"encoding":{"x":{"field":"x","type":"quantitative","scale":{"domain":[0.8,1.5],"nice":false,"zero":false},"axis":{"values":[0.8,0.9,1,1.1,1.2,1.3,1.4,1.5],"title":"T*/Tₜ*","titlePadding":4}},"y":{"field":"y","type":"quantitative","scale":{"domain":[-20,22],"nice":false,"zero":false},"axis":{"values":[-20,-15,-10,-5,0,5,10,15,20],"title":"ΔC*ₚ"}}}},
  {"mark":{"type":"point","opacity":0},"encoding":{"x":{"field":"x","type":"quantitative","scale":{"domain":[0.8,1.5],"nice":false,"zero":false},"axis":{"orient":"top","values":[0.8,0.9,1,1.1,1.2,1.3,1.4,1.5],"labels":false,"title":null}},"y":{"field":"y","type":"quantitative","scale":{"domain":[-20,22],"nice":false,"zero":false},"axis":{"orient":"right","values":[-20,-15,-10,-5,0,5,10,15,20],"labels":false,"title":null}}}}
 ],
 "resolve":{"axis":{"x":"independent","y":"independent"}}},
{"width":318,"height":226,
 "data":{"name":"mc"},"transform":[{"filter":"datum.p=='h'"}],
 "encoding":{"x":{"field":"x","type":"quantitative","scale":{"domain":[0.8,1.5],"nice":false,"zero":false},"axis":null},"y":{"field":"y","type":"quantitative","scale":{"domain":[-5,25],"nice":false,"zero":false},"axis":null}},
 "layer":[
  {"data":{"name":"fit"},"transform":[{"filter":"datum.p=='h' && datum.s=='0.5'"}],"mark":{"type":"line","color":"#ff2020","strokeWidth":1,"interpolate":"monotone","clip":true}},
  {"data":{"name":"fit"},"transform":[{"filter":"datum.p=='h' && datum.s=='1.0'"}],"mark":{"type":"line","color":"#000080","strokeWidth":2.5,"strokeDash":[2.5,5],"interpolate":"monotone","clip":true}},
  {"transform":[{"filter":"datum.s=='0.5'"}],"mark":{"type":"point","shape":"circle","filled":true,"color":"#ff0000","opacity":1,"size":60}},
  {"transform":[{"filter":"datum.s=='1.0'"}],"mark":{"type":"point","shape":"square","filled":true,"color":"#000080","opacity":1,"size":110}},
  {"data":{"name":"lab"},"transform":[{"filter":"datum.p=='h' && datum.k=='L'"}],"mark":{"type":"text","align":"left","baseline":"middle","fontSize":15},"encoding":{"text":{"field":"t"}}},
  {"mark":{"type":"point","opacity":0},"encoding":{"x":{"field":"x","type":"quantitative","scale":{"domain":[0.8,1.5],"nice":false,"zero":false},"axis":{"values":[0.8,0.9,1,1.1,1.2,1.3,1.4,1.5],"title":"T*/Tₛ*","titlePadding":4}},"y":{"field":"y","type":"quantitative","scale":{"domain":[-5,25],"nice":false,"zero":false},"axis":{"values":[-5,0,5,10,15,20,25],"title":"ΔC*ₚ"}}}},
  {"mark":{"type":"point","opacity":0},"encoding":{"x":{"field":"x","type":"quantitative","scale":{"domain":[0.8,1.5],"nice":false,"zero":false},"axis":{"orient":"top","values":[0.8,0.9,1,1.1,1.2,1.3,1.4,1.5],"labels":false,"title":null}},"y":{"field":"y","type":"quantitative","scale":{"domain":[-5,25],"nice":false,"zero":false},"axis":{"orient":"right","values":[-5,0,5,10,15,20,25],"labels":false,"title":null}}}}
 ],
 "resolve":{"axis":{"x":"independent","y":"independent"}}}
]
}
